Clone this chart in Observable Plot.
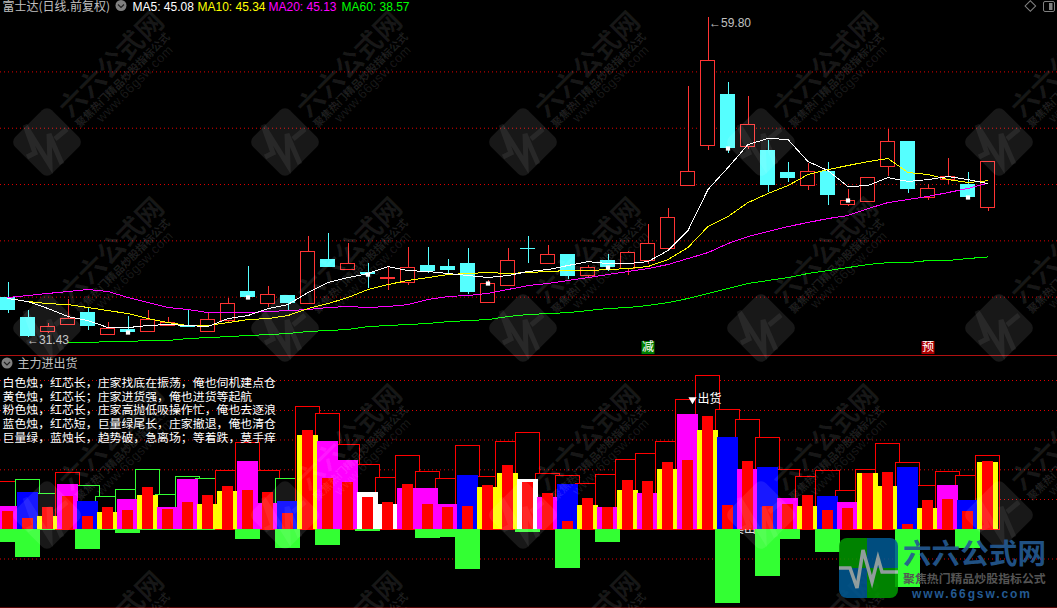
<!DOCTYPE html>
<html lang="zh">
<head>
<meta charset="utf-8">
<title>富士达 日线 主力进出货</title>
<script src="https://cdn.jsdelivr.net/npm/d3@7"></script>
<script src="https://cdn.jsdelivr.net/npm/@observablehq/plot@0.6"></script>
<style>
html,body{margin:0;padding:0;background:#000;overflow:hidden}
#chart{position:relative;width:1057px;height:608px;background:#000}
#chart svg{display:block}
#overlay{position:absolute;left:0;top:0;pointer-events:none}
</style>
</head>
<body>
<div id="chart"></div>
<script>
// ---------- price panel ----------
const opens  = [34.97,33.19,31.90,32.57,33.63,31.68,32.13,31.95,32.48,32.48,31.95,32.92,35.50,34.43,35.15,34.43,38.34,37.45,37.19,36.57,36.30,37.81,37.72,37.98,34.52,36.03,39.32,37.90,38.78,36.92,38.25,37.54,38.25,39.32,44.91,48.38,52.99,48.29,48.02,46.07,44.91,46.15,43.22,43.49,46.60,48.82,43.76,45.36,45.00,42.96];
const highs  = [36.30,33.81,32.66,34.79,34.08,32.74,33.28,33.81,33.19,33.81,33.63,34.88,37.72,35.95,35.15,40.38,40.65,39.76,37.98,37.63,39.41,39.41,38.34,39.32,36.48,39.32,40.38,39.58,38.78,37.81,38.78,39.05,41.45,42.87,53.70,59.80,54.06,52.81,48.91,46.95,46.86,46.95,44.56,45.62,49.88,48.82,45.00,47.31,46.07,47.04];
const lows   = [33.54,31.43,31.77,32.57,32.04,31.68,31.68,31.95,32.48,32.30,31.86,32.74,34.88,34.08,33.81,34.43,37.63,37.45,35.77,35.59,36.03,37.10,37.10,35.23,34.52,36.03,37.98,37.90,36.57,36.74,37.28,36.92,37.90,39.32,44.91,48.02,47.75,48.11,44.29,45.18,44.47,43.14,43.05,43.49,45.71,44.20,43.58,45.00,43.67,42.60];
const closes = [33.81,31.50,32.39,33.10,32.39,32.21,31.86,33.01,32.74,32.30,33.01,34.43,34.97,35.15,34.43,39.05,37.63,37.98,37.00,36.74,37.63,37.28,37.36,35.41,36.21,38.25,39.23,38.78,36.83,37.63,37.63,38.96,39.76,42.07,46.07,56.01,48.20,50.33,44.91,45.53,46.07,44.02,43.58,45.62,48.82,44.56,44.56,45.71,43.85,47.04];
const ma5  = [34.88,34.61,33.99,33.28,32.92,32.30,32.30,32.48,32.57,32.48,32.39,33.10,33.37,33.99,34.34,35.41,36.30,36.74,37.10,37.72,37.36,37.28,37.10,36.92,36.74,36.92,37.28,37.45,37.81,38.16,37.98,37.98,38.16,39.14,40.92,44.56,46.51,48.55,49.09,49.00,47.04,46.24,44.82,44.91,45.62,45.27,45.44,45.71,45.44,45.08];
const ma10 = [34.88,34.61,34.43,34.34,34.08,33.81,33.54,33.10,32.74,32.48,32.48,32.74,33.01,33.10,33.37,33.99,34.43,34.97,35.68,36.12,36.48,36.74,37.01,37.10,37.19,37.10,37.19,37.28,37.36,37.36,37.45,37.54,37.72,38.34,39.41,41.27,42.16,43.40,44.20,44.91,45.89,46.33,46.69,47.04,47.31,46.07,45.89,45.44,45.18,45.34];
const ma20 = [34.97,35.15,35.33,35.50,35.68,35.50,34.97,34.52,34.08,33.90,33.63,33.63,33.63,33.72,33.81,33.90,34.08,34.17,34.08,34.17,34.34,34.79,35.06,35.15,35.33,35.68,36.03,36.21,36.48,36.74,37.01,37.28,37.54,37.90,38.43,38.96,39.76,40.38,40.83,41.27,41.63,41.98,42.25,42.87,43.40,43.67,43.94,44.29,44.65,45.13];
const ma60 = [null,null,null,30.97,30.97,31.06,31.06,31.15,31.15,31.33,31.41,31.50,31.59,31.68,31.77,31.95,32.04,32.13,32.39,32.48,32.57,32.66,32.83,32.92,33.01,33.28,33.46,33.54,33.63,33.81,33.99,34.08,34.26,34.52,34.88,35.33,35.77,36.21,36.48,36.74,37.10,37.36,37.63,37.90,38.07,38.07,38.25,38.25,38.43,38.57];
const priceGrid = [35,40,45,50,55];
const markerDays = [6,12,18,24,30,36,42,48];
const signals = [{day:32,label:"减",color:"#008000"},{day:46,label:"预",color:"#b00000"}];
const signalPrice = 30.53;

// ---------- indicator panel ----------
const outlineTops = [47.3,49.3,35.3,56.3,43.3,32.3,39.3,59.3,34.3,52.3,50.3,58.3,86.3,58.3,50.3,122.7,115.3,85,64.7,51.7,73.7,57.7,50.7,83.7,52.7,87.7,96.7,55.7,53.7,45.7,54.7,69.7,75.7,87.7,129.7,153.7,119.7,109.7,91.7,59.7,52.7,58.7,38.7,59.7,85.7,66.7,43.7,57.7,53.7,73.7];
const greenOutlineDays = [1,2,4,5,6,7,8,9,10,14];
const candleBody = [22.7,36.7,12.7,44.7,27.7,16.7,29.7,33.7,21.7,49.7,24.7,37.7,67.7,25.7,27.7,93.7,87.7,69,37,25,41,41,25,54,42,56,50,32,45,24,22,39,36,60,115,99,92,60,62,31,23,33,27,56,43,62,21,44,29,67];
const bodyKinds = ["magenta","blue","yellow","magenta","blue","yellow","magenta","yellow","magenta","magenta","yellow","yellow","magenta","magenta","blue","yellow","magenta","magenta","white","white","magenta","magenta","magenta","blue","yellow","yellow","white","magenta","blue","yellow","magenta","yellow","magenta","yellow","magenta","yellow","blue","magenta","blue","magenta","yellow","blue","magenta","yellow","yellow","blue","yellow","magenta","blue","yellow"];
const redCore = [17.7,10.7,21.7,32.7,12.7,21.7,18.7,41.7,19.7,26.7,33.7,42.7,38.7,36.7,15.7,98.7,50.7,47,32,27,45,25,22,23,44,64,47,36,8,31,22,49,48,67,69,113,24,68,23,25,34,19,21,56,57,5,29,30,18,68];
const greenTail = [13,28,0,0,20,0,4,0,0,0,0,0,10,0,19.3,0,16,0,2,0,0,9,8,40,0,0,3,0,39,0,13,0,0,0,0,0,74,0,47,10,0,23,0,0,0,58,0,0,19,0];
const indicatorGrid = [-29.5,30,59.7,89.5,119,149];
const legendLines = [
  "白色烛，红芯长，庄家找底在振荡，俺也伺机建点仓",
  "黄色烛，红芯长；庄家进货强，俺也进货等起航",
  "粉色烛，红芯长，庄家高抛低吸操作忙，俺也去逐浪",
  "蓝色烛，红芯短，巨量绿尾长，庄家撤退，俺也清仓",
  "巨量绿，蓝烛长，趋势破，急离场；等着跌，莫手痒"
];

// ---------- tables built from the lists ----------
const days = opens.map((o,i)=>({i,o,h:highs[i],l:lows[i],c:closes[i],up:closes[i]>=o}));
const series = a => a.map((v,i)=>({i,v})).filter(d=>d.v!=null);
const bars = outlineTops.map((t,i)=>({i,top:t,outline:greenOutlineDays.includes(i)?"#33ff33":"#ff0000",body:candleBody[i],kind:bodyKinds[i],core:redCore[i],tail:greenTail[i]}));

const RED="#ff3333", CYAN="#55ffff", GRID="#e00000";
const LATIN='"Liberation Sans",Arial,sans-serif';
const CJK='"Noto Sans CJK SC","Noto Sans",sans-serif';
const xDomain=[-0.375,52.475];
const txt=(label,dx,color,font=LATIN)=>Plot.text([label],{frameAnchor:"top-left",dx,dy:2,text:d=>d,fill:color,fontSize:12,fontFamily:font,textAnchor:"start",lineAnchor:"top"});
const maLine=(a,color)=>Plot.line(series(a),{x:"i",y:"v",stroke:color,strokeWidth:1,shapeRendering:"crispEdges"});

const pricePanel = Plot.plot({
  width:1057,height:355,margin:0,
  style:{background:"#000"},
  x:{axis:null,domain:xDomain},
  y:{axis:null,domain:[29.82,61.34]},
  marks:[
    Plot.ruleY(priceGrid,{stroke:GRID,strokeDasharray:"1 3",strokeWidth:1}),
    Plot.ruleX(days,{x:"i",y1:"l",y2:"h",stroke:d=>d.up?RED:CYAN,shapeRendering:"crispEdges"}),
    Plot.rect(days.filter(d=>!d.up),{x1:d=>d.i-0.375,x2:d=>d.i+0.375,y1:"o",y2:"c",fill:CYAN,shapeRendering:"crispEdges"}),
    Plot.rect(days.filter(d=>d.up),{x1:d=>d.i-0.35,x2:d=>d.i+0.35,y1:"o",y2:"c",fill:"#000",stroke:RED,shapeRendering:"crispEdges"}),
    maLine(ma60,"#00ff00"),
    maLine(ma20,"#ff00ff"),
    maLine(ma10,"#ffff00"),
    maLine(ma5,"#ffffff"),
    Plot.dot(markerDays,{x:d=>d,y:d=>closes[d],symbol:"square",r:2.4,fill:"#fff",stroke:null}),
    Plot.dot(signals,{x:"day",y:()=>signalPrice,symbol:"square",r:7.3,fill:"color",stroke:null}),
    Plot.text(signals,{x:"day",y:()=>signalPrice,text:"label",fill:"#fff",fontSize:12,fontFamily:CJK}),
    Plot.text([{i:1,v:d3.min(lows)}],{x:"i",y:"v",text:d=>"←"+d.v.toFixed(2),dy:3,dx:-1,textAnchor:"start",fill:"#c0c0c0",fontSize:12,fontFamily:LATIN}),
    Plot.text([{i:35,v:d3.max(highs)}],{x:"i",y:"v",text:d=>"←"+d.v.toFixed(2),dy:5,dx:1,textAnchor:"start",fill:"#c0c0c0",fontSize:12,fontFamily:LATIN}),
    txt("富士达(日线.前复权)",2,"#c0c0c0",CJK),
    txt("MA5: "+ma5.at(-1).toFixed(2),132,"#ffffff"),
    txt("MA10: "+ma10.at(-1).toFixed(2),197,"#ffff00"),
    txt("MA20: "+ma20.at(-1).toFixed(2),268,"#ff00ff"),
    txt("MA60: "+ma60.at(-1).toFixed(2),341,"#00ff00")
  ]
});

const indicatorPanel = Plot.plot({
  width:1057,height:253,margin:0,
  style:{background:"#000"},
  x:{axis:null,domain:xDomain},
  y:{axis:null,domain:[-79,174]},
  marks:[
    Plot.ruleY(indicatorGrid,{stroke:GRID,strokeDasharray:"1 3",strokeWidth:1}),
    Plot.rect(bars,{x1:d=>d.i-0.6,x2:d=>d.i+0.6,y1:()=>0,y2:"top",fill:"#000",stroke:"outline",shapeRendering:"crispEdges"}),
    Plot.text(["卖出"],{x:()=>36,y:()=>0,text:d=>d,dx:4,textAnchor:"start",fill:"#ddd",fontSize:12,fontFamily:CJK}),
    Plot.dot([36],{x:d=>d,y:()=>0,dx:-1,symbol:"triangle",r:3,rotate:180,fill:"#ddd",stroke:null}),
    Plot.rect(bars.filter(d=>d.tail>0),{x1:d=>d.i-0.625,x2:d=>d.i+0.625,y1:()=>0,y2:d=>-d.tail,fill:"#33ff33",shapeRendering:"crispEdges"}),
    Plot.rect(bars,{x1:d=>d.i-0.525,x2:d=>d.i+0.525,y1:()=>0,y2:"body",fill:"kind",shapeRendering:"crispEdges"}),
    Plot.rect(bars,{x1:d=>d.i-0.275,x2:d=>d.i+0.275,y1:()=>0,y2:"core",fill:"#ff0000",shapeRendering:"crispEdges"}),
    Plot.dot([34],{x:d=>d,y:()=>130,dx:4.5,symbol:"triangle",r:3,rotate:180,fill:"#fff",stroke:null}),
    Plot.text(["出货"],{x:()=>34,y:()=>130,text:d=>d,dx:9.5,textAnchor:"start",fill:"#fff",fontSize:12,fontFamily:CJK}),
    Plot.text(["主力进出货"],{frameAnchor:"top-left",dx:17,dy:4,text:d=>d,textAnchor:"start",lineAnchor:"top",fill:"#c0c0c0",fontSize:12,fontFamily:CJK}),
    ...legendLines.map((line,k)=>Plot.text([line],{frameAnchor:"top-left",dx:2,dy:23+k*13.75,text:d=>d,textAnchor:"start",lineAnchor:"top",fill:"#fff",fontSize:11.9,fontFamily:CJK})),
    Plot.ruleY([174],{stroke:"#b01010"}),
    Plot.ruleY([-79],{stroke:"#b01010",dy:-0.5})
  ]
});

const chart=document.getElementById("chart");
chart.append(pricePanel,indicatorPanel);

// ---------- site watermark, corner logo and panel icons (decoration on top of the chart) ----------
const ov=d3.select(chart).append("svg").attr("id","overlay").attr("width",1057).attr("height",608);
const wmX=[47,285,523,761,999], wmY=[142,328,515,702];
wmY.forEach(cy=>wmX.forEach(cx=>{
  const g=ov.append("g").attr("transform",`translate(${cx},${cy})`);
  g.append("rect").attr("x",-26).attr("y",-26).attr("width",52).attr("height",52).attr("rx",7)
    .attr("transform","rotate(45)").attr("fill","#fff").attr("fill-opacity",.095);
  g.append("polyline").attr("points","-20,15 -12,11 -22,-17 3,23 2,-8 15,22").attr("fill","none")
    .attr("stroke","#fff").attr("stroke-opacity",.07).attr("stroke-width",5);
  g.append("line").attr("x1",8).attr("y1",-3).attr("x2",20).attr("y2",-13)
    .attr("stroke","#fff").attr("stroke-opacity",.07).attr("stroke-width",5);
  const t=g.append("g").attr("transform","rotate(-45)").attr("fill","#fff").attr("font-family",CJK);
  t.append("text").attr("x",33).attr("y",0).attr("font-size",27).attr("font-weight",700).attr("fill-opacity",.09).text("六六公式网");
  t.append("text").attr("x",33).attr("y",13.5).attr("font-size",10.7).attr("font-weight",700).attr("fill-opacity",.12).text("聚焦热门精品炒股指标公式");
  t.append("text").attr("x",52).attr("y",25).attr("font-size",13).attr("letter-spacing",.5).attr("fill-opacity",.1).attr("font-family",LATIN).text("www.66gsw.com");
}));
const defs=ov.append("defs");
defs.append("clipPath").attr("id","lg").append("rect").attr("x",839).attr("y",538).attr("width",59).attr("height",60).attr("rx",8);
const lg=ov.append("g").attr("clip-path","url(#lg)").attr("opacity",.85);
[[839,538,"#009900"],[867,538,"#005b96"],[839,568,"#005b96"],[867,568,"#009900"]].forEach(([x,y,f])=>
  lg.append("rect").attr("x",x).attr("y",y).attr("width",x==839?28:31).attr("height",30).attr("fill",f));
lg.append("polyline").attr("points","839,568 850,568 857,588 863,550 872,582 878,558 882,572 898,572")
  .attr("fill","none").attr("stroke","#a8b8b8").attr("stroke-width",3.5);
ov.append("text").attr("x",903).attr("y",564).attr("font-size",28.6).attr("font-weight",700).attr("font-family",CJK).attr("fill","#245a92").attr("fill-opacity",.92).text("六六公式网");
ov.append("text").attr("x",903).attr("y",583).attr("font-size",11.9).attr("font-weight",700).attr("font-family",CJK).attr("fill","#555").text("聚焦热门精品炒股指标公式");
ov.append("text").attr("x",912).attr("y",598).attr("font-size",12).attr("font-weight",700).attr("letter-spacing",1.9).attr("font-family",LATIN).attr("fill","#245a92").text("www.66gsw.com");
[[121,5.5],[7,363]].forEach(([x,y])=>{
  ov.append("circle").attr("cx",x).attr("cy",y).attr("r",5.5).attr("fill","#808080");
  ov.append("polyline").attr("points",`${x-3},${y-1} ${x},${y+2} ${x+3},${y-1}`).attr("fill","none").attr("stroke","#222").attr("stroke-width",1.2);
});
ov.append("rect").attr("x",1026.5).attr("y",2).attr("width",7.5).attr("height",7.5).attr("transform","rotate(45 1030 6)").attr("fill","none").attr("stroke","#808080");
ov.append("rect").attr("x",1043.5).attr("y",1.5).attr("width",11).attr("height",10).attr("rx",1.5).attr("fill","none").attr("stroke","#808080");
ov.append("rect").attr("x",1049).attr("y",3).attr("width",3.5).attr("height",7).attr("fill","#808080");
</script>
</body>
</html>
